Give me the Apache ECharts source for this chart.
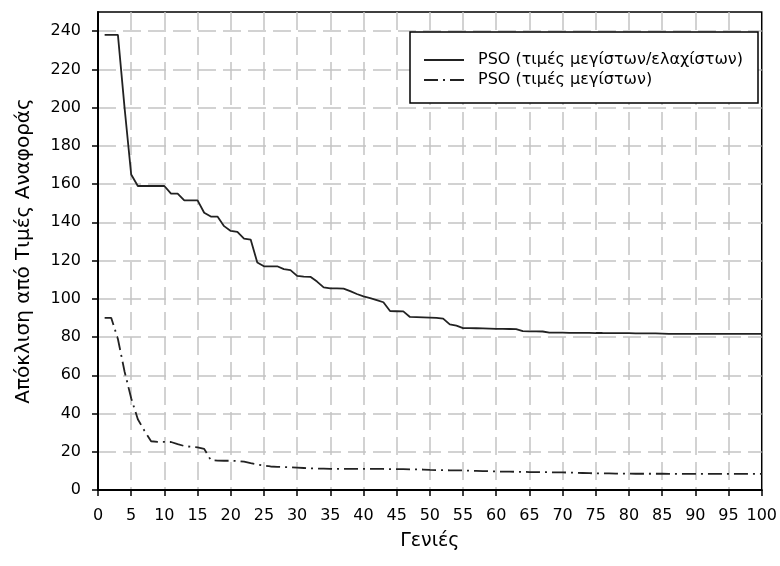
<!DOCTYPE html>
<html>
<head>
<meta charset="utf-8">
<script src="https://cdn.jsdelivr.net/npm/echarts@6/dist/echarts.min.js"></script>
<style>
  html, body { margin: 0; padding: 0; background: #fff; }
  #chart { width: 780px; height: 566px; }
</style>
</head>
<body>
<div id="chart"></div>
<script>
// Generations (x) shared by both runs
const generations = [
  1, 2, 3, 4, 5, 6, 7, 8, 9, 10,
  11, 12, 13, 14, 15, 16, 17, 18, 19, 20,
  21, 22, 23, 24, 25, 26, 27, 28, 29, 30,
  31, 32, 33, 34, 35, 36, 37, 38, 39, 40,
  41, 42, 43, 44, 45, 46, 47, 48, 49, 50,
  51, 52, 53, 54, 55, 56, 57, 58, 59, 60,
  61, 62, 63, 64, 65, 66, 67, 68, 69, 70,
  71, 72, 73, 74, 75, 76, 77, 78, 79, 80,
  81, 82, 83, 84, 85, 86, 87, 88, 89, 90,
  91, 92, 93, 94, 95, 96, 97, 98, 99, 100
];

// PSO using max/min values
const psoMaxMin = [
  238, 238, 238, 200, 165, 159, 159, 159, 159, 159,
  155, 155, 151.5, 151.5, 151.5, 145, 143, 143, 138, 135.5,
  135, 131.5, 131, 119, 117, 117, 117, 115.5, 115, 112,
  111.6, 111.5, 109, 106, 105.5, 105.5, 105.3, 104, 102.5, 101.3,
  100.3, 99.3, 98.2, 93.6, 93.5, 93.4, 90.5, 90.4, 90.3, 90.2,
  90, 89.6, 86.6, 86, 84.7, 84.7, 84.6, 84.5, 84.4, 84.3,
  84.3, 84.2, 84.1, 83.1, 83, 83, 82.9, 82.3, 82.3, 82.3,
  82.2, 82.2, 82.2, 82.2, 82.1, 82.1, 82, 82, 82, 82,
  81.9, 81.9, 81.9, 81.9, 81.8, 81.7, 81.7, 81.7, 81.7, 81.7,
  81.7, 81.7, 81.7, 81.7, 81.7, 81.7, 81.7, 81.7, 81.7, 81.7
];

// PSO using max values only
const psoMax = [
  90, 90, 79, 62, 48, 37, 31, 25.5, 25.2, 25.2,
  25.1, 24, 23, 22.6, 22.3, 21.5, 15.6, 15.4, 15.3, 15.3,
  15.2, 14.8, 14, 13.3, 12.8, 12.3, 12.1, 12, 11.9, 11.7,
  11.5, 11.3, 11.2, 11.2, 11.1, 11.1, 11.1, 11.1, 11, 11,
  11, 11, 11, 10.9, 10.9, 10.9, 10.8, 10.8, 10.7, 10.5,
  10.4, 10.4, 10.3, 10.3, 10.2, 10.1, 10, 9.9, 9.8, 9.7,
  9.6, 9.6, 9.5, 9.5, 9.4, 9.4, 9.3, 9.3, 9.2, 9.2,
  9.1, 9, 8.9, 8.8, 8.7, 8.7, 8.7, 8.6, 8.6, 8.6,
  8.5, 8.5, 8.5, 8.5, 8.5, 8.4, 8.4, 8.4, 8.4, 8.4,
  8.4, 8.4, 8.4, 8.4, 8.4, 8.4, 8.4, 8.4, 8.4, 8.4
];

const seriesNames = ['PSO (τιμές μεγίστων/ελαχίστων)', 'PSO (τιμές μεγίστων)'];
const xTitle = 'Γενιές';
const yTitle = 'Απόκλιση από Τιμές Αναφοράς';

const FONT = 'DejaVu Sans';
const LINE = '#222';
const pairs = (ys) => generations.map((g, i) => [g, ys[i]]);

const gridLine = {
  show: true, showMinLine: false, showMaxLine: false,
  lineStyle: { color: '#c4c4c4', width: 1.5, type: [18, 7] }
};

const chart = echarts.init(document.getElementById('chart'), null, { renderer: 'canvas' });
chart.setOption({
  animation: false,
  backgroundColor: '#fff',
  grid: {
    left: 98, right: 18, top: 12, bottom: 76,
    show: true, borderColor: '#000', borderWidth: 1.5, backgroundColor: 'transparent'
  },
  graphic: [{
    type: 'rect', z: 3,
    shape: { x: 410, y: 32, width: 348, height: 71 },
    style: { fill: '#fff', stroke: '#000', lineWidth: 1.5 }
  }],
  legend: {
    orient: 'vertical', left: 423, top: 52, padding: 0,
    itemWidth: 40, itemHeight: 14, itemGap: 4,
    itemStyle: { color: 'rgba(0,0,0,0)', borderColor: 'rgba(0,0,0,0)', borderWidth: 0, opacity: 0 },
    textStyle: { fontFamily: FONT, fontSize: 16, color: '#000', padding: [0, 0, 0, 9] },
    data: seriesNames
  },
  xAxis: {
    type: 'value', min: 0, max: 100, interval: 5,
    name: xTitle, nameLocation: 'middle', nameGap: 42,
    nameTextStyle: { fontFamily: FONT, fontSize: 19, color: '#000' },
    axisLine: { show: true, lineStyle: { color: '#000', width: 2 } },
    axisTick: { show: true, inside: false, length: 6, lineStyle: { color: '#000', width: 1.5 } },
    axisLabel: { fontFamily: FONT, fontSize: 16, color: '#000', margin: 18 },
    splitLine: gridLine
  },
  yAxis: {
    type: 'value', min: 0, max: 250, interval: 20,
    name: yTitle, nameLocation: 'middle', nameGap: 64,
    nameTextStyle: { fontFamily: FONT, fontSize: 20, color: '#000' },
    axisLine: { show: true, lineStyle: { color: '#000', width: 2 } },
    axisTick: { show: true, inside: false, length: 6, lineStyle: { color: '#000', width: 1.5 } },
    axisLabel: { fontFamily: FONT, fontSize: 16, color: '#000', margin: 17, showMaxLabel: false },
    splitLine: gridLine
  },
  series: [
    {
      name: seriesNames[0], type: 'line', data: pairs(psoMaxMin),
      symbol: 'none', z: 2,
      lineStyle: { color: LINE, width: 1.8, type: 'solid' },
      itemStyle: { color: LINE }
    },
    {
      name: seriesNames[1], type: 'line', data: pairs(psoMax),
      symbol: 'none', z: 2,
      lineStyle: { color: LINE, width: 1.8, type: [14, 5, 2, 5] },
      itemStyle: { color: LINE }
    }
  ]
});
</script>
</body>
</html>
